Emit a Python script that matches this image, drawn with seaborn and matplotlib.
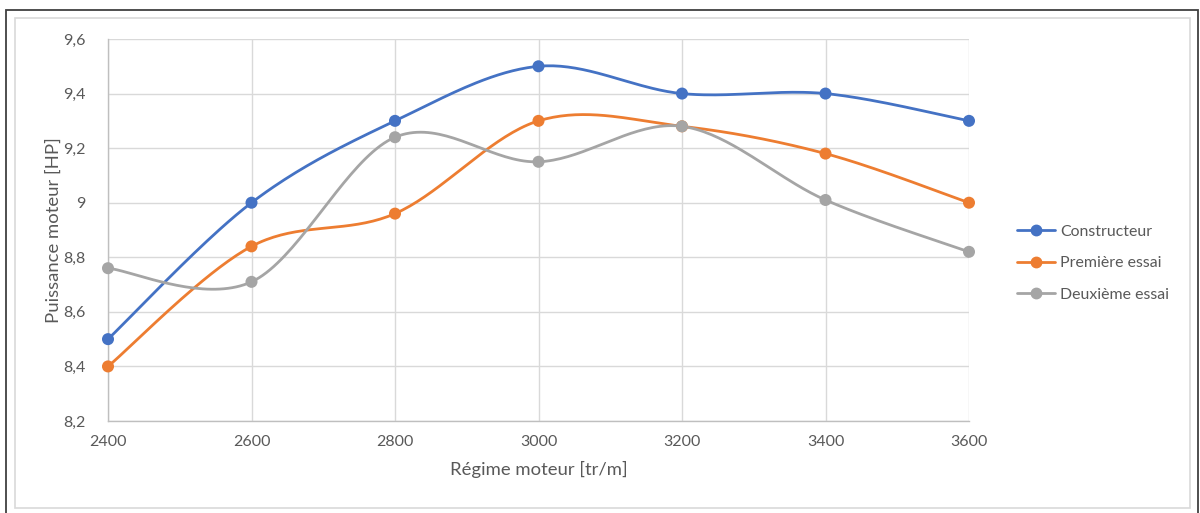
import numpy as np
import pandas as pd
import matplotlib
matplotlib.use("Agg")
import matplotlib.pyplot as plt
from matplotlib.patches import Rectangle
from matplotlib.lines import Line2D
import seaborn as sns

# Engine speed (tr/m) and measured power (HP)
regime = [2400, 2600, 2800, 3000, 3200, 3400, 3600]
constructeur = [8.5, 9.0, 9.3, 9.5, 9.4, 9.4, 9.3]
premiere_essai = [8.4, 8.84, 8.96, 9.3, 9.28, 9.18, 9.0]
deuxieme_essai = [8.76, 8.71, 9.24, 9.15, 9.28, 9.01, 8.82]

series_names = ["Constructeur", "Première essai", "Deuxième essai"]
series_values = [constructeur, premiere_essai, deuxieme_essai]
colors = ["#4472C4", "#ED7D31", "#A5A5A5"]

y_ticks = [8.2, 8.4, 8.6, 8.8, 9.0, 9.2, 9.4, 9.6]
y_tick_labels = ["8,2", "8,4", "8,6", "8,8", "9", "9,2", "9,4", "9,6"]


def smooth_curve(x, y, n=40):
    """Cubic Bezier smoothing through every point (Catmull-Rom style)."""
    x = np.asarray(x, float)
    y = np.asarray(y, float)
    pts = np.column_stack([x, y])
    out = []
    for i in range(len(pts) - 1):
        p0 = pts[i - 1] if i > 0 else pts[i]
        p1 = pts[i]
        p2 = pts[i + 1]
        p3 = pts[i + 2] if i + 2 < len(pts) else pts[i + 1]
        c1 = p1 + (p2 - p0) / 6.0
        c2 = p2 - (p3 - p1) / 6.0
        t = np.linspace(0, 1, n)[:, None]
        seg = ((1 - t) ** 3) * p1 + 3 * ((1 - t) ** 2) * t * c1 + 3 * (1 - t) * t ** 2 * c2 + t ** 3 * p2
        out.append(seg if i == 0 else seg[1:])
    seg = np.vstack(out)
    return seg[:, 0], seg[:, 1]


sns.set_theme(style="white")
plt.rcParams["font.family"] = ["Lato", "DejaVu Sans"]

fig = plt.figure(figsize=(12.0, 5.13), dpi=100)
ax = fig.add_axes([108 / 1200, 1 - 421 / 513, (969 - 108) / 1200, (421 - 39) / 513])

# Frames around the chart area
fig.patches.append(Rectangle((6 / 1200, -0.01), (1198 - 6) / 1200, 1 - 9.5 / 513 + 0.01,
                             transform=fig.transFigure, fill=False, edgecolor="#404040",
                             linewidth=1.3, zorder=0))
fig.patches.append(Rectangle((15 / 1200, 1 - 508 / 513), (1190 - 15) / 1200, (508 - 18) / 513,
                             transform=fig.transFigure, fill=False, edgecolor="#D9D9D9",
                             linewidth=1.2, zorder=0))

rows = []
for name, vals in zip(series_names, series_values):
    xs, ys = smooth_curve(regime, vals)
    for a, b in zip(xs, ys):
        rows.append({"regime": a, "puissance": b, "serie": name})
curves = pd.DataFrame(rows)

points = pd.DataFrame({
    "regime": regime * 3,
    "puissance": constructeur + premiere_essai + deuxieme_essai,
    "serie": sum([[n] * len(regime) for n in series_names], []),
})

palette = dict(zip(series_names, colors))
sns.lineplot(data=curves, x="regime", y="puissance", hue="serie", palette=palette,
             sort=False, estimator=None, linewidth=2.0, legend=False, ax=ax, zorder=3)
sns.scatterplot(data=points, x="regime", y="puissance", hue="serie", palette=palette,
                s=75, edgecolor="none", legend=False, ax=ax, zorder=4, clip_on=False)

ax.set_xlim(2400, 3600)
ax.set_ylim(8.2, 9.6)
ax.set_xticks(regime)
ax.set_xticklabels([str(v) for v in regime])
ax.set_yticks(y_ticks)
ax.set_yticklabels(y_tick_labels)
ax.grid(True, color="#D9D9D9", linewidth=1.0)
ax.set_axisbelow(True)
for side in ["top", "right"]:
    ax.spines[side].set_visible(False)
for side in ["left", "bottom"]:
    ax.spines[side].set_color("#BFBFBF")
    ax.spines[side].set_linewidth(1.0)
ax.tick_params(axis="both", colors="#595959", labelsize=11.5, length=0)
ax.tick_params(axis="y", pad=16)
ax.tick_params(axis="x", pad=10)

ax.set_xlabel("Régime moteur [tr/m]", fontsize=13.3, color="#595959", labelpad=9)
ax.set_ylabel("Puissance moteur [HP]", fontsize=13.3, color="#595959", labelpad=1)

handles = [Line2D([0], [0], color=c, linewidth=2.0, marker="o", markersize=7.5)
           for c in colors]
fig.legend(handles, series_names, loc="center left",
           bbox_to_anchor=(1003 / 1200, 1 - 263 / 513), frameon=False,
           fontsize=11.4, labelcolor="#595959", handlelength=2.4,
           handletextpad=0.3, labelspacing=1.1)

fig.savefig("out.png", dpi=100, facecolor="white")
